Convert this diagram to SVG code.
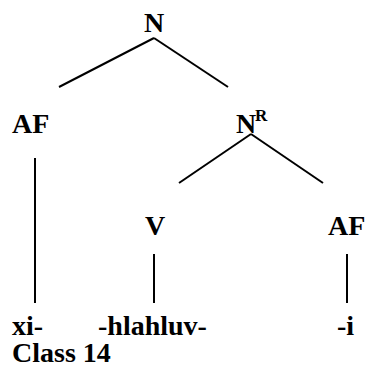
<svg xmlns="http://www.w3.org/2000/svg" width="367" height="373" viewBox="0 0 367 373">
<style>
text{font-family:'Liberation Serif','DejaVu Serif',serif;font-weight:700;font-size:28px;fill:#000}
.sup{font-size:17px}
.edge{stroke:#000;stroke-width:2;fill:none}
</style>
<rect width="367" height="373" fill="#fff"/>
<g id="connectors">
<line class="edge" x1="154" y1="38" x2="59" y2="87"/>
<line class="edge" x1="154" y1="38" x2="228" y2="87"/>
<line class="edge" x1="35" y1="158" x2="35" y2="303"/>
<line class="edge" x1="251" y1="134" x2="179" y2="183"/>
<line class="edge" x1="251" y1="134" x2="323" y2="183"/>
<line class="edge" x1="154" y1="254" x2="154" y2="303"/>
<line class="edge" x1="347" y1="254" x2="347" y2="303"/>
</g>
<g id="node-N"><text x="154" y="32" text-anchor="middle">N</text></g>
<g id="node-AF1"><text x="12" y="133">AF</text></g>
<g id="node-NR"><text x="236" y="133">N</text><text class="sup" x="255" y="121">R</text></g>
<g id="node-V"><text x="145" y="235">V</text></g>
<g id="node-AF2"><text x="328" y="235">AF</text></g>
<g id="node-xi"><text x="12" y="335">xi-</text></g>
<g id="node-hlahluv"><text x="98" y="335">-hlahluv-</text></g>
<g id="node-i"><text x="337" y="335">-i</text></g>
<g id="label-class"><text x="12" y="362">Class 14</text></g>
</svg>
